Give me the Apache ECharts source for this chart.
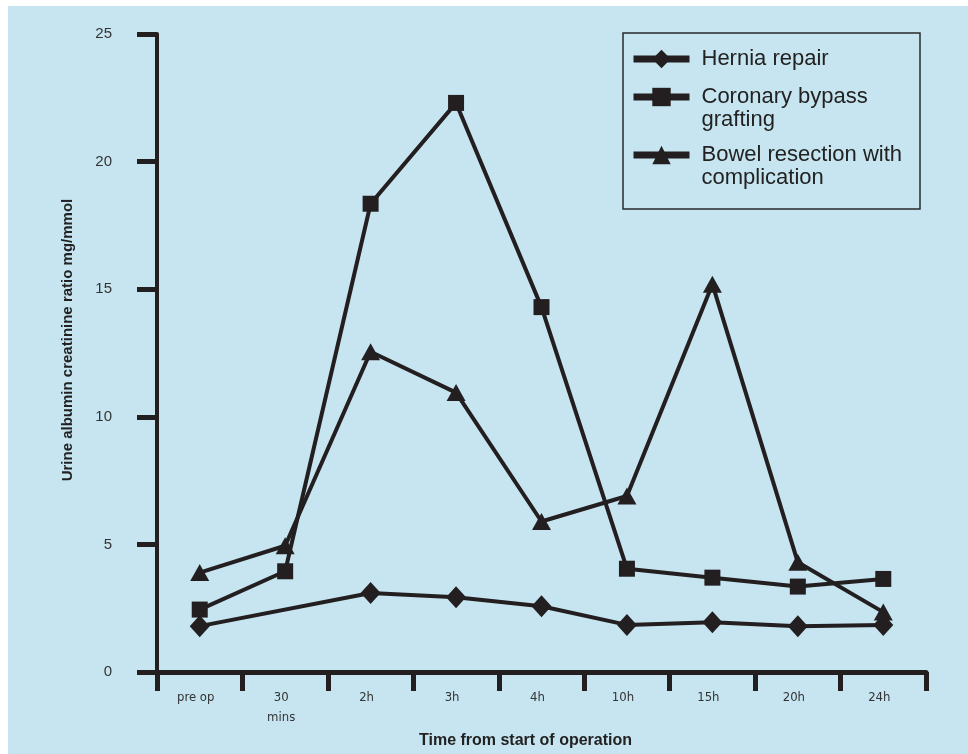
<!DOCTYPE html>
<html>
<head>
<meta charset="utf-8">
<script src="https://cdn.jsdelivr.net/npm/echarts@6/dist/echarts.min.js"></script>
<style>
html,body{margin:0;padding:0;background:#fff;}
#chart{width:968px;height:754px;}
</style>
</head>
<body>
<div id="chart"></div>
<script>
const categories = ['pre op', '30\nmins', '2h', '3h', '4h', '10h', '15h', '20h', '24h'];
const herniaRepair = [1.8, null, 3.1, 2.93, 2.58, 1.85, 1.95, 1.8, 1.85];
const coronaryBypass = [2.45, 3.95, 18.35, 22.3, 14.3, 4.05, 3.7, 3.35, 3.65];
const bowelResection = [3.9, 4.95, 12.55, 10.95, 5.9, 6.9, 15.2, 4.3, 2.35];
const yTicks = [0, 5, 10, 15, 20, 25];
const seriesNames = ['Hernia repair', 'Coronary bypass grafting', 'Bowel resection with complication'];
const legendLabels = ['Hernia repair', '\nCoronary bypass\ngrafting', '\nBowel resection with\ncomplication'];

const INK = '#231f20';
const chart = echarts.init(document.getElementById('chart'), null, {renderer: 'canvas'});

function mkSeries(name, data, symbol, size) {
  return {
    name: name, type: 'line', data: data, connectNulls: true,
    symbol: symbol, symbolSize: size, showAllSymbol: true,
    lineStyle: {color: INK, width: 4},
    itemStyle: {color: INK},
    emphasis: {disabled: true},
    animation: false
  };
}

function mkLegend(i, top) {
  return {
    data: [seriesNames[i]],
    left: 630, top: top, padding: 0,
    itemWidth: 56, itemHeight: 23,
    lineStyle: {width: 7, color: INK},
    formatter: () => legendLabels[i],
    textStyle: {
      fontFamily: 'Liberation Sans, Arial, sans-serif', fontSize: 22, color: '#222',
      lineHeight: 23, padding: [0, 0, 0, 7]
    },
    selectedMode: false
  };
}

const option = {
  backgroundColor: '#ffffff',
  animation: false,
  graphic: [
    {type: 'rect', z: -10, silent: true, shape: {x: 8, y: 6, width: 960, height: 748}, style: {fill: '#c6e5f0'}},
    {type: 'rect', z: 10, silent: true, shape: {x: 623, y: 33, width: 297, height: 176}, style: {fill: 'none', stroke: '#2a2a2a', lineWidth: 1.5}}
  ],
  legend: [
    mkLegend(0, 47.5),
    mkLegend(1, 62.5),
    mkLegend(2, 120.5)
  ],
  grid: {left: 157, top: 34, right: 42, bottom: 81, containLabel: false},
  xAxis: {
    type: 'category', data: categories, boundaryGap: true,
    name: 'Time from start of operation', nameLocation: 'middle', nameGap: 52,
    nameTextStyle: {fontFamily: 'Liberation Sans, Arial, sans-serif', fontSize: 16, fontWeight: 'bold', color: '#222', padding: [0, 32, 0, 0]},
    axisLine: {lineStyle: {color: INK, width: 5}},
    axisTick: {show: true, length: 19, lineStyle: {color: INK, width: 5}, alignWithLabel: false},
    axisLabel: {fontFamily: 'Liberation Sans Narrow, DejaVu Sans Condensed, Arial Narrow, sans-serif', fontSize: 13, color: '#333', margin: 16, lineHeight: 20, interval: 0, padding: [0, 8, 0, 0]},
    splitLine: {show: false}
  },
  yAxis: {
    type: 'value', min: 0, max: 25, interval: 5,
    name: 'Urine albumin creatinine ratio mg/mmol', nameLocation: 'middle', nameGap: 82, nameRotate: 90,
    nameTextStyle: {fontFamily: 'Liberation Sans, Arial, sans-serif', fontSize: 15, fontWeight: 'bold', color: '#222', padding: [0, 0, 0, 26]},
    axisLine: {show: true, lineStyle: {color: INK, width: 4}},
    axisTick: {show: true, length: 20, lineStyle: {color: INK, width: 5}},
    axisLabel: {fontFamily: 'Liberation Sans, Arial, sans-serif', fontSize: 15, color: '#333', margin: 45,
      formatter: v => yTicks.includes(v) ? String(v) : ''},
    splitLine: {show: false}
  },
  series: [
    mkSeries(seriesNames[0], herniaRepair, 'diamond', [20, 22]),
    mkSeries(seriesNames[1], coronaryBypass, 'rect', 16),
    mkSeries(seriesNames[2], bowelResection, 'triangle', [19, 17])
  ]
};
chart.setOption(option);
</script>
</body>
</html>
